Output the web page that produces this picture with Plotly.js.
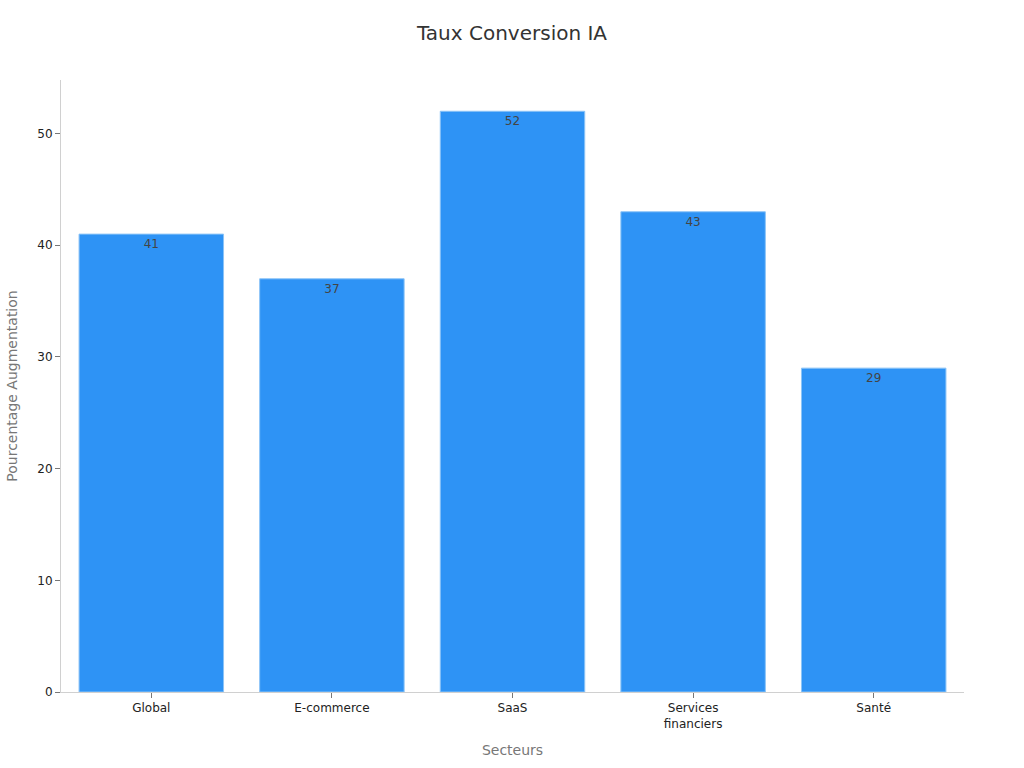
<!DOCTYPE html>
<html><head><meta charset="utf-8">
<script src="https://cdn.plot.ly/plotly-3.0.1.min.js"></script>
<style>body{margin:0}#chart{width:1024px;height:768px}</style>
</head><body><div id="chart"></div>
<script>
const categories = ["Global", "E-commerce", "SaaS", "Services<br>financiers", "Santé"];
const values = [41, 37, 52, 43, 29];
const labels = values.map(String);

Plotly.newPlot("chart", [{
  type: "bar",
  x: categories,
  y: values,
  text: labels,
  textposition: "inside",
  insidetextanchor: "end",
  textfont: {family: "DejaVu Sans", size: 12, color: "#444444"},
  marker: {color: "#2E93F5", line: {color: "#8CC4F7", width: 1}},
  hoverinfo: "none"
}], {
  width: 1024, height: 768,
  margin: {l: 61, r: 60, t: 80, b: 76},
  paper_bgcolor: "#ffffff", plot_bgcolor: "#ffffff",
  font: {family: "DejaVu Sans", size: 12, color: "#333333"},
  title: {text: "Taux Conversion IA", x: 0.5, xanchor: "center", y: 0.966, font: {family: "DejaVu Sans", size: 20, color: "#333333"}},
  bargap: 0.2,
  showlegend: false,
  xaxis: {
    title: {text: "Secteurs", font: {size: 14, color: "#777777"}, standoff: 15},
    showline: true, linecolor: "#d0d0d0", linewidth: 1,
    ticks: "outside", ticklen: 5, tickcolor: "#777777",
    tickfont: {size: 12, color: "#222222"},
    showgrid: false, zeroline: false
  },
  yaxis: {
    title: {text: "Pourcentage Augmentation", font: {size: 14, color: "#777777"}, standoff: 16},
    range: [0, 54.8],
    dtick: 10,
    showline: true, linecolor: "#d0d0d0", linewidth: 1,
    ticks: "outside", ticklen: 5, tickcolor: "#777777",
    tickfont: {size: 12, color: "#222222"},
    showgrid: false, zeroline: false
  }
}, {displayModeBar: false, staticPlot: true});
</script></body></html>
